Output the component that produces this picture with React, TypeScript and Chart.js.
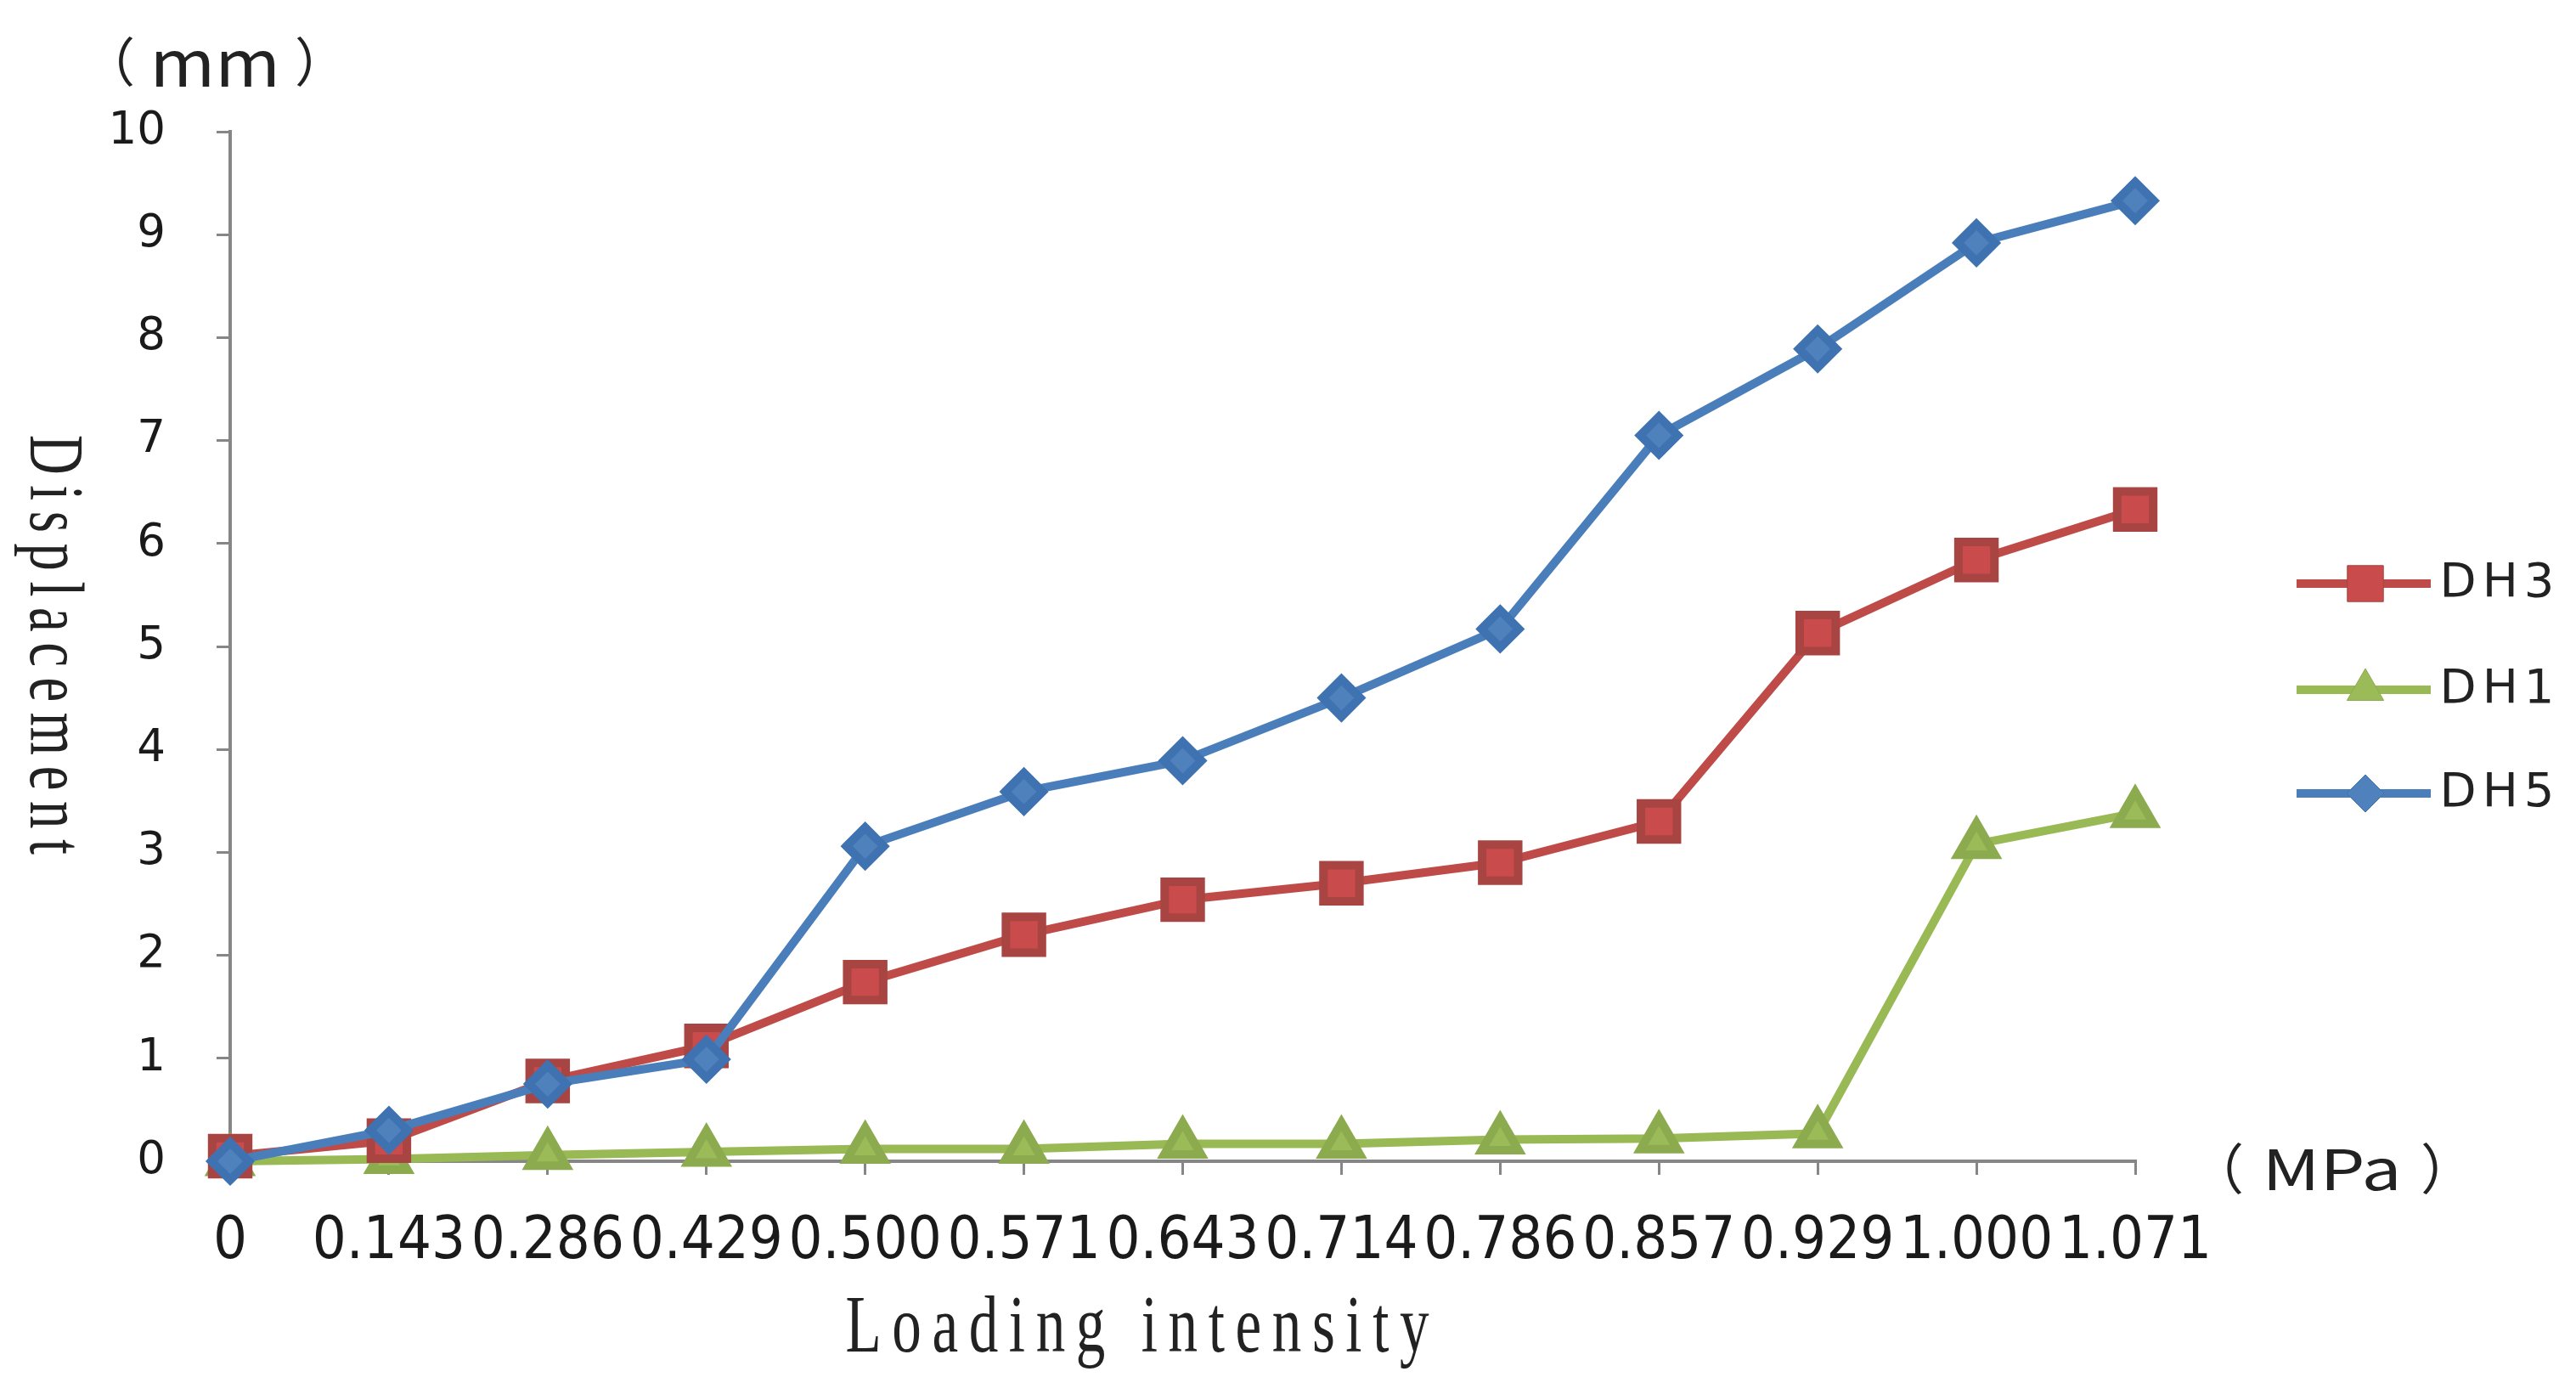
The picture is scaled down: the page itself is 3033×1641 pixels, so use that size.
import React, { useEffect, useRef } from 'react';
import { Chart, registerables } from 'chart.js';
import { drawPoint } from 'chart.js/helpers';

Chart.register(...registerables);

// ---- data ----
const categories = ['0', '0.143', '0.286', '0.429', '0.500', '0.571', '0.643', '0.714', '0.786', '0.857', '0.929', '1.000', '1.071'];
const dh3 = [0.05, 0.2, 0.78, 1.12, 1.74, 2.2, 2.54, 2.7, 2.9, 3.3, 5.13, 5.84, 6.33];
const dh1 = [0.0, 0.02, 0.06, 0.09, 0.12, 0.12, 0.17, 0.17, 0.21, 0.22, 0.27, 3.08, 3.38];
const dh5 = [0.0, 0.3, 0.75, 0.99, 3.06, 3.59, 3.89, 4.5, 5.17, 7.05, 7.89, 8.92, 9.33];
const yTickValues = [0, 1, 2, 3, 4, 5, 6, 7, 8, 9, 10];
const legendOrder = ['DH3', 'DH1', 'DH5'];
const yUnit = '（mm）';
const xUnit = '（MPa）';
const yTitle = 'Displacement';
const xTitle = 'Loading intensity';

const W = 3033;
const H = 1641;

function drawSpaced(ctx: CanvasRenderingContext2D, text: string, cx: number, cy: number, target: number, sx = 1) {
  const chars = [...text];
  const widths = chars.map((c) => ctx.measureText(c).width * sx);
  const total = widths.reduce((a, b) => a + b, 0);
  const ls = chars.length > 1 ? (target - total) / (chars.length - 1) : 0;
  let x = cx - target / 2;
  ctx.textAlign = 'left';
  chars.forEach((c, i) => {
    ctx.save();
    ctx.translate(x, cy);
    ctx.scale(sx, 1);
    ctx.fillText(c, 0, 0);
    ctx.restore();
    x += widths[i] + ls;
  });
}

// draws a bracketed unit: bracket ink placed at the left/right edges, inner text centred
function drawUnit(
  ctx: CanvasRenderingContext2D, text: string, left: number, right: number, cy: number,
  parenFont: string, innerFont: string, innerWidth: number,
) {
  const chars = [...text];
  const open = chars[0];
  const close = chars[chars.length - 1];
  const inner = chars.slice(1, -1).join('');
  ctx.textAlign = 'left';
  ctx.font = parenFont;
  const mo = ctx.measureText(open);
  const mc = ctx.measureText(close);
  ctx.fillText(open, left + mo.actualBoundingBoxLeft, cy);
  ctx.fillText(close, right - mc.actualBoundingBoxRight, cy);
  ctx.font = innerFont;
  const mi = ctx.measureText(inner);
  const inkW = mi.actualBoundingBoxLeft + mi.actualBoundingBoxRight;
  const sx = innerWidth / inkW;
  const mid = (left + right) / 2;
  ctx.save();
  ctx.translate(mid - innerWidth / 2, cy);
  ctx.scale(sx, 1);
  ctx.fillText(inner, mi.actualBoundingBoxLeft, 0);
  ctx.restore();
}

const extrasPlugin = {
  id: 'extras',
  afterDraw(chart: any) {
    const ctx: CanvasRenderingContext2D = chart.ctx;
    ctx.save();
    ctx.fillStyle = '#222';
    ctx.textBaseline = 'middle';

    // unit labels
    drawUnit(ctx, yUnit, 140, 366, 73, '62px "Noto Sans CJK SC"', '76px "Noto Sans CJK SC"', 140);
    drawUnit(ctx, xUnit, 2622, 2870, 1376, '64px "Noto Sans CJK SC"', '66px "Noto Sans CJK SC"', 150);

    // x title
    ctx.font = '96px "Liberation Serif"';
    drawSpaced(ctx, xTitle, 1339, 1566, 687, 0.72);

    // y title rotated clockwise
    ctx.save();
    ctx.translate(60, 759);
    ctx.rotate(Math.PI / 2);
    ctx.font = '90px "Liberation Serif"';
    drawSpaced(ctx, yTitle, 0, 0, 494, 0.72);
    ctx.restore();

    // legend
    const rows = [687, 812, 934];
    legendOrder.forEach((name, i) => {
      const ds = chart.data.datasets.find((d: any) => d.label === name);
      const y = rows[i];
      ctx.strokeStyle = ds.borderColor;
      ctx.lineWidth = ds.borderWidth;
      ctx.beginPath();
      ctx.moveTo(2704, y);
      ctx.lineTo(2862, y);
      ctx.stroke();
      ctx.fillStyle = ds.pointBackgroundColor;
      ctx.strokeStyle = ds.pointBorderColor;
      ctx.lineWidth = 1;
      drawPoint(ctx, { pointStyle: ds.pointStyle, rotation: 0, borderWidth: 1, radius: ds.pointRadius } as any, 2785, y);
      ctx.fillStyle = '#222';
      ctx.font = '56px "DejaVu Sans"';
      drawSpaced(ctx, name, 2940, y, 135);
    });
    ctx.restore();
  },
};

export default function App() {
  const ref = useRef<HTMLCanvasElement>(null);
  useEffect(() => {
    const canvas = ref.current!;
    const axisColor = '#868686';
    const chart = new Chart(canvas, {
      type: 'line',
      data: {
        labels: categories,
        datasets: [
          {
            label: 'DH5', data: dh5, borderColor: '#4A7EBB', backgroundColor: '#4F81BD',
            pointBackgroundColor: '#4F81BD', pointBorderColor: '#3F72B0', pointStyle: 'rectRot',
            pointRadius: 22, borderWidth: 10, tension: 0, clip: false,
          } as any,
          {
            label: 'DH3', data: dh3, borderColor: '#BE4B48', backgroundColor: '#C0504D',
            pointBackgroundColor: '#C94B4B', pointBorderColor: '#A84442', pointStyle: 'rect',
            pointRadius: 30, borderWidth: 10, tension: 0, clip: false,
          } as any,
          {
            label: 'DH1', data: dh1, borderColor: '#98B954', backgroundColor: '#9BBB59',
            pointBackgroundColor: '#9BBB59', pointBorderColor: '#8CAB4E', pointStyle: 'triangle',
            pointRadius: 25, borderWidth: 10, tension: 0, clip: false,
          } as any,
        ],
      },
      options: {
        responsive: false,
        animation: false,
        layout: { padding: { left: 0, top: 155, right: W - 2514, bottom: 0 } },
        plugins: { legend: { display: false }, tooltip: { enabled: false }, title: { display: false } },
        scales: {
          x: {
            type: 'category',
            offset: false,
            afterFit: (s: any) => { s.height = H - 1367; },
            grid: { display: true, drawOnChartArea: false, drawTicks: true, tickLength: 16, color: axisColor, lineWidth: 3 },
            border: { display: true, color: axisColor, width: 4 },
            ticks: {
              autoSkip: false, maxRotation: 0, minRotation: 0, padding: 38, color: '#1a1a1a',
              font: { family: '"DejaVu Sans Condensed", "DejaVu Sans"', size: 70 },
            },
          },
          y: {
            min: 0, max: 10,
            afterFit: (s: any) => { s.width = 271; },
            afterBuildTicks: (s: any) => { s.ticks = yTickValues.map((v) => ({ value: v })); },
            grid: { display: true, drawOnChartArea: false, drawTicks: true, tickLength: 16, color: axisColor, lineWidth: 3 },
            border: { display: true, color: axisColor, width: 4 },
            ticks: { padding: 60, color: '#1a1a1a', font: { family: '"DejaVu Sans"', size: 53 } },
          },
        },
      },
      plugins: [extrasPlugin],
    });
    return () => chart.destroy();
  }, []);
  return (
    <div style={{ position: 'absolute', left: 0, top: 0, width: W, height: H, background: '#fff' }}>
      <canvas ref={ref} width={W} height={H} style={{ display: 'block', width: W, height: H }} />
    </div>
  );
}
